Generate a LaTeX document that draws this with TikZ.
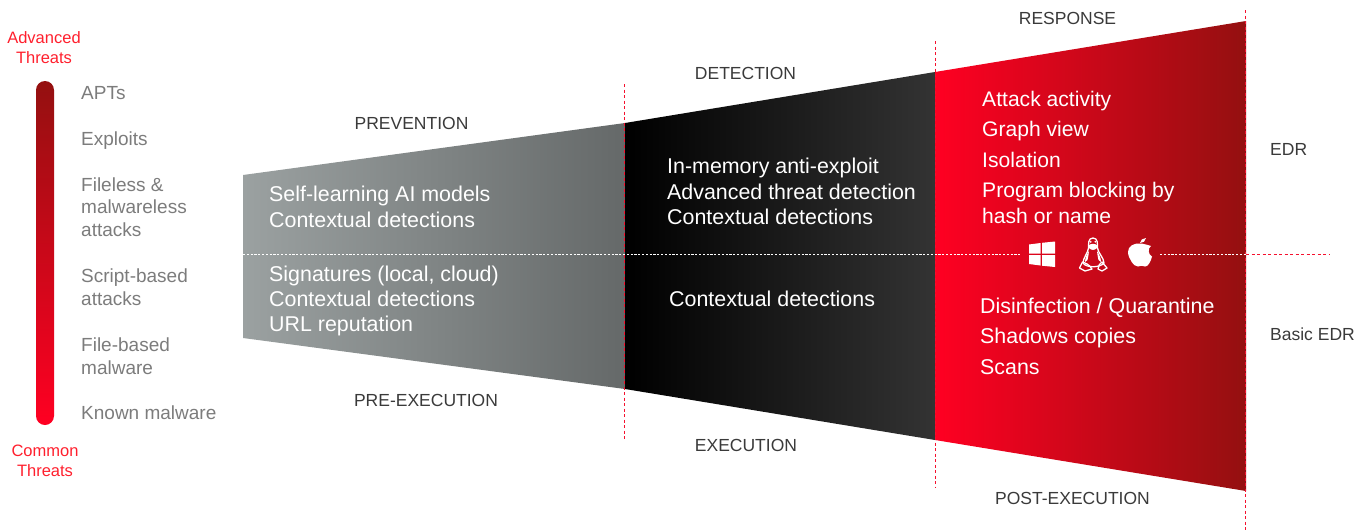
\documentclass[tikz,border=0pt]{standalone}
\usepackage{fontspec}
\setmainfont{Liberation Sans}
\definecolor{threatred}{HTML}{FF1F2D}
\definecolor{threatgrey}{HTML}{7C7C7C}
\definecolor{headgrey}{HTML}{3A3A3A}
\definecolor{dotred}{HTML}{F5102E}
\definecolor{vivid}{HTML}{FF0022}
\definecolor{deepred}{HTML}{941010}
\definecolor{greyL}{HTML}{9BA1A1}
\definecolor{greyR}{HTML}{656969}
\definecolor{blackR}{HTML}{333333}
\tikzset{
  x=1pt,y=-1pt,
  threat/.style={font=\fontsize{16.5}{20}\selectfont,text=threatred,align=center,inner sep=0},
  risk/.style={font=\fontsize{19}{22.5}\selectfont,text=threatgrey,align=left,anchor=west,inner sep=0},
  head/.style={font=\fontsize{17.5}{21}\selectfont,text=headgrey,inner sep=0},
  item/.style={font=\fontsize{21.4}{25.4}\selectfont,text=white,align=left,anchor=west,inner sep=0},
  itemwide/.style={item,font=\fontsize{21.4}{30.5}\selectfont},
  itemnarrow/.style={item,font=\fontsize{21.1}{30.5}\selectfont},
  vdots/.style={dotred,line width=1pt,dash pattern=on 3pt off 2.5pt},
  hdots/.style={white,line width=1pt,dash pattern=on 2.2pt off 1.6pt},
  tuxline/.style={white,line width=1.3pt,line join=round},
}
\begin{document}
\begin{tikzpicture}
\useasboundingbox (0,0) rectangle (1369,531);
% Threat bar
\shade[top color=deepred,bottom color=vivid,rounded corners=9pt] (36,81) rectangle (54,425);
\node[threat] (adv) at (44,47.5) {Advanced\\Threats};
\node[threat] (com) at (45,460.5) {Common\\Threats};
\node[risk] (r1) at (81,93) {APTs};
\node[risk] (r2) at (81,140.5) {Exploits};
\node[risk] (r3) at (81,207) {Fileless \&\\malwareless\\attacks};
\node[risk] (r4) at (81,287) {Script-based\\attacks};
\node[risk] (r5) at (81,356) {File-based\\malware};
\node[risk] (r6) at (81,413) {Known malware};
% Funnel
\shade[left color=greyL,right color=greyR] (243,175) -- (625,123) -- (625,389) -- (243,338) -- cycle;
\shade[left color=black,right color=blackR] (625,123) -- (935,72) -- (935,440) -- (625,389) -- cycle;
\shade[left color=vivid,right color=deepred] (935,72) -- (1246,21) -- (1246,491) -- (935,440) -- cycle;
% Dotted lines
\coordinate (v1a) at (624.5,84); \coordinate (v1b) at (624.5,440);
\coordinate (v2a) at (935.5,41); \coordinate (v2b) at (935.5,487);
\coordinate (v3a) at (1245.5,10); \coordinate (v3b) at (1245.5,530);
\draw[vdots] (v1a) -- (v1b);
\draw[vdots] (v2a) -- (v2b);
\draw[vdots] (v3a) -- (v3b);
\coordinate (h1) at (243,254.5); \coordinate (h2) at (1020,254.5);
\coordinate (h3) at (1160,254.5); \coordinate (h4) at (1246,254.5); \coordinate (h5) at (1330,254.5);
\draw[hdots] (h1) -- (h2);
\draw[hdots] (h3) -- (h4);
\draw[vdots] (h4) -- (h5);
% Headings
\node[head] (p1) at (411.5,123) {PREVENTION};
\node[head] (p2) at (426,400) {PRE-EXECUTION};
\node[head] (p3) at (745.5,73) {DETECTION};
\node[head] (p4) at (746,445) {EXECUTION};
\node[head] (p5) at (1067.5,18) {RESPONSE};
\node[head] (p6) at (1072.5,498) {POST-EXECUTION};
\node[head,anchor=west] (p7) at (1270,149) {EDR};
\node[head,anchor=west] (p8) at (1270,334) {Basic EDR};
% Items
\node[item] (i1) at (269,207) {Self-learning AI models\\Contextual detections};
\node[item] (i2) at (269,301) {Signatures (local, cloud)\\Contextual detections\\URL reputation};
\node[item] (i3) at (667,191.5) {In-memory anti-exploit\\Advanced threat detection\\Contextual detections};
\node[item] (i4) at (669,299) {Contextual detections};
\node[itemnarrow] (i5) at (982,157) {Attack activity\\Graph view\\Isolation\\Program blocking by\\[-5pt]hash or name};
\node[itemwide] (i6) at (980,336) {Disinfection / Quarantine\\Shadows copies\\Scans};
% Windows logo
\fill[white] (1029,244.5) -- (1040.5,243) -- (1040.5,253.5) -- (1029,253.5) -- cycle;
\fill[white] (1042,242.8) -- (1055,241.5) -- (1055,253.5) -- (1042,253.5) -- cycle;
\fill[white] (1029,255) -- (1040.5,255) -- (1040.5,265.5) -- (1029,264) -- cycle;
\fill[white] (1042,255) -- (1055,255) -- (1055,267) -- (1042,265.7) -- cycle;
% Linux penguin
\draw[tuxline] (1093,238) .. controls (1088,238) and (1088.5,244) .. (1088.5,248) .. controls (1088,253) and (1083,258) .. (1083,263) .. controls (1086,268) and (1100,268) .. (1104,263) .. controls (1104,258) and (1098,253) .. (1097.5,248) .. controls (1097.5,244) and (1098,238) .. (1093,238) -- cycle;
\fill[white] (1089,245) .. controls (1091,243.5) and (1095,243.5) .. (1097,245) -- (1097,248) .. controls (1095,250.5) and (1091,250.5) .. (1089,248) -- cycle;
\fill[white] (1090.7,241.8) circle (1pt);
\fill[white] (1095.3,241.8) circle (1pt);
\fill[white] (1089,251) .. controls (1087,254) and (1085,258) .. (1085,262) -- (1087.5,260) .. controls (1088,257) and (1089,254) .. (1089,251) -- cycle;
\fill[white] (1097,251) .. controls (1099,254) and (1101,258) .. (1101,262) -- (1098.5,260) .. controls (1098,257) and (1097,254) .. (1097,251) -- cycle;
\draw[tuxline] (1079.5,268) -- (1082.5,262) .. controls (1085,263) and (1089,264) .. (1092,269) -- (1085,271) -- cycle;
\draw[tuxline] (1107,268) -- (1102,262) .. controls (1100,263) and (1098,266) .. (1098,269) -- (1102,271) -- cycle;
% Apple logo
\fill[white] (1140,243.5) .. controls (1144,243.5) and (1146,245) .. (1148,245) .. controls (1149,245) and (1149.5,245) .. (1151,246) .. controls (1148,248) and (1147.5,254) .. (1152,256.5) .. controls (1151,261) and (1148,267) .. (1145,266.5) .. controls (1142,265.5) and (1141,265.5) .. (1138,266.5) .. controls (1134,267) and (1128,258) .. (1128,252) .. controls (1128,246) and (1134,243) .. (1140,243.5) -- cycle;
\fill[white] (1140,243) .. controls (1140,240) and (1143,238) .. (1146,238) .. controls (1146,241) and (1143,243) .. (1140,243) -- cycle;
\end{tikzpicture}
\end{document}
